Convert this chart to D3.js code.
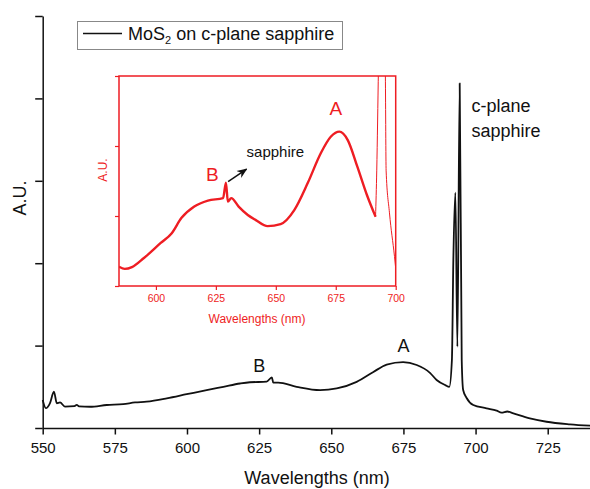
<!DOCTYPE html>
<html>
<head>
<meta charset="utf-8">
<script src="https://cdn.jsdelivr.net/npm/d3@7"></script>
<style>
  body { margin: 0; background: #fff; }
  svg { display: block; font-family: "Liberation Sans", Arial, sans-serif; }
</style>
</head>
<body>
<div class="container"></div>
<script>
const WIDTH = 590;
const HEIGHT = 489;
const RED = '#ee1d23';

// main spectrum (arbitrary units)
var mainWl = [550, 551.1, 552.5, 553.9, 554.9, 556, 557.7, 561, 561.8, 562.6, 566.4, 572.2, 577.9, 582, 586,
  593, 599.9, 606.8, 612.6, 618.4, 621.8, 627.6, 629.4, 629.9, 631.6, 638, 646.1, 651.9, 658.8, 664.6,
  669.2, 674.9, 679.6, 684.2, 686.5, 689.5, 690.9, 691.8, 692.3, 693.0, 693.7, 694.5, 695.2, 695.7,
  696.9, 699.2, 703.8, 707.3, 709.0, 711, 713.1, 718.8, 724.6, 732.7, 740];
var mainVal = [0.34, 0.24, 0.30, 0.44, 0.30, 0.31, 0.26, 0.265, 0.28, 0.262, 0.258, 0.279, 0.29, 0.31, 0.32,
  0.36, 0.41, 0.46, 0.50, 0.54, 0.555, 0.562, 0.615, 0.55, 0.55, 0.50, 0.46, 0.48, 0.56, 0.68,
  0.77, 0.80, 0.765, 0.67, 0.583, 0.52, 0.50, 0.825, 2.04, 2.856, 0.987, 4.183, 0.825, 0.461,
  0.364, 0.279, 0.239, 0.21, 0.186, 0.20, 0.178, 0.118, 0.076, 0.045, 0.028];

// inset spectrum (zoomed, arbitrary units)
var insetWl = [584.6, 587, 590, 595, 602, 606.6, 610.6, 616, 621.7, 628, 629.2, 630, 631.4, 634.5, 638.3,
  641.5, 646.6, 652, 657.7, 663.3, 668.8, 673, 676.5, 680, 684, 688, 691.6, 692.1, 692.8, 693.5,
  694.5, 695.3, 695.7, 696, 697.4, 699.5, 700.6];
var insetVal = [0.55, 0.49, 0.54, 0.80, 1.23, 1.51, 1.94, 2.27, 2.44, 2.51, 2.95, 2.41, 2.51, 2.27, 2.03,
  1.89, 1.71, 1.77, 2.17, 2.94, 3.80, 4.27, 4.41, 4.17, 3.41, 2.60, 1.98, 3.31, 6.2, 9,
  12, 9, 6.0, 3.31, 2.09, 0.84, 0.09];

var mainXTicks = [550, 575, 600, 625, 650, 675, 700, 725];
var insetXTicks = [600, 625, 650, 675, 700];
var legendLabel = ['MoS', '2', ' on c-plane sapphire'];

var svg = d3.select('.container').append('svg')
  .attr('width', WIDTH)
  .attr('height', HEIGHT);

// ---- main chart ----
var x = d3.scaleLinear().domain([550, 740]).range([42.7, 591]);
var y = d3.scaleLinear().domain([0, 5]).range([428, 16]);

function minorTicks(start, stop, step) {
  return d3.range(start, stop + 1e-9, step);
}

var xAxis = svg.append('g').attr('transform', 'translate(0,' + y(0) + ')');
xAxis.call(d3.axisBottom(x).tickValues(minorTicks(550, 737.5, 12.5)).tickSize(3.5).tickFormat(''));
xAxis.call(d3.axisBottom(x).tickValues(mainXTicks).tickSize(6.5).tickSizeOuter(0).tickPadding(8)
  .tickFormat(d3.format('d')));
xAxis.selectAll('.domain').attr('stroke', '#111').attr('stroke-width', 1.5);
xAxis.selectAll('line').attr('stroke', '#111').attr('stroke-width', 1.5);
xAxis.selectAll('text').attr('fill', '#111').style('font-size', '15px')
  .style('font-family', '"Liberation Sans", Arial, sans-serif');

var yAxis = svg.append('g').attr('transform', 'translate(' + x(550) + ',0)');
yAxis.call(d3.axisLeft(y).tickValues(minorTicks(0, 5, 0.5)).tickSize(4).tickSizeOuter(0).tickFormat(''));
yAxis.call(d3.axisLeft(y).tickValues(minorTicks(0, 5, 1)).tickSize(7.5).tickSizeOuter(0).tickFormat(''));
yAxis.selectAll('.domain').attr('stroke', '#111').attr('stroke-width', 1.5);
yAxis.selectAll('line').attr('stroke', '#111').attr('stroke-width', 1.5);

svg.append('text')
  .attr('x', 317).attr('y', 484)
  .attr('text-anchor', 'middle')
  .style('font-size', '18px').attr('fill', '#111')
  .text('Wavelengths (nm)');

svg.append('text')
  .attr('transform', 'translate(26,198) rotate(-90)')
  .attr('text-anchor', 'middle')
  .style('font-size', '18px').attr('fill', '#111')
  .text('A.U.');

var mainLine = d3.line()
  .x(function (d) { return x(d[0]); })
  .y(function (d) { return y(d[1]); })
  .curve(d3.curveMonotoneX);

svg.append('path')
  .datum(d3.zip(mainWl, mainVal))
  .attr('d', mainLine)
  .attr('fill', 'none')
  .attr('stroke', '#111')
  .attr('stroke-width', 1.8)
  .attr('stroke-linejoin', 'round');

var mainNotes = [
  { wl: 625, v: 0.674, text: 'B', anchor: 'middle' },
  { wl: 675, v: 0.928, text: 'A', anchor: 'middle' },
  { wl: 698.6, v: 3.835, text: 'c-plane', anchor: 'start' },
  { wl: 698.6, v: 3.53, text: 'sapphire', anchor: 'start' }
];
svg.selectAll('.note').data(mainNotes).enter().append('text')
  .attr('class', 'note')
  .attr('x', function (d) { return x(d.wl); })
  .attr('y', function (d) { return y(d.v); })
  .attr('text-anchor', function (d) { return d.anchor; })
  .style('font-size', '18px').attr('fill', '#111')
  .text(function (d) { return d.text; });

// legend
var legend = svg.append('g');
legend.append('rect')
  .attr('x', 77.5).attr('y', 21.5).attr('width', 265).attr('height', 28)
  .attr('fill', '#fff').attr('stroke', '#888').attr('stroke-width', 1);
legend.append('line')
  .attr('x1', 83).attr('x2', 122).attr('y1', 33.5).attr('y2', 33.5)
  .attr('stroke', '#111').attr('stroke-width', 1.5);
var lt = legend.append('text')
  .attr('x', 128).attr('y', 40)
  .style('font-size', '18px').attr('fill', '#111');
lt.append('tspan').text(legendLabel[0]);
lt.append('tspan').attr('dy', 4).style('font-size', '11px').text(legendLabel[1]);
lt.append('tspan').attr('dy', -4).text(legendLabel[2]);

// ---- inset ----
var ix = d3.scaleLinear().domain([584.6, 700]).range([119, 395.7]);
var iy = d3.scaleLinear().domain([0, 6]).range([286, 76]);

svg.append('clipPath').attr('id', 'inset-clip')
  .append('rect')
  .attr('x', ix(584.6)).attr('y', iy(6))
  .attr('width', ix(700) - ix(584.6)).attr('height', iy(0) - iy(6));

svg.append('rect')
  .attr('x', ix(584.6)).attr('y', iy(6))
  .attr('width', ix(700) - ix(584.6)).attr('height', iy(0) - iy(6))
  .attr('fill', 'none').attr('stroke', RED).attr('stroke-width', 1.5);

var ixAxis = svg.append('g').attr('transform', 'translate(0,' + iy(0) + ')');
ixAxis.call(d3.axisBottom(ix).tickValues(minorTicks(587.5, 700, 12.5)).tickSize(2.5).tickFormat(''));
ixAxis.call(d3.axisBottom(ix).tickValues(insetXTicks).tickSize(4).tickSizeOuter(0).tickPadding(5)
  .tickFormat(d3.format('d')));
ixAxis.selectAll('.domain').remove();
ixAxis.selectAll('line').attr('stroke', RED).attr('stroke-width', 1.2);
ixAxis.selectAll('text').attr('fill', RED).style('font-size', '10.5px')
  .style('font-family', '"Liberation Sans", Arial, sans-serif');

var iyAxis = svg.append('g').attr('transform', 'translate(' + ix(584.6) + ',0)');
iyAxis.call(d3.axisLeft(iy).tickValues(minorTicks(0, 6, 1)).tickSize(2.5).tickSizeOuter(0).tickFormat(''));
iyAxis.call(d3.axisLeft(iy).tickValues(minorTicks(0, 6, 2)).tickSize(4).tickSizeOuter(0).tickFormat(''));
iyAxis.selectAll('.domain').remove();
iyAxis.selectAll('line').attr('stroke', RED).attr('stroke-width', 1.2);

svg.append('text')
  .attr('x', 257).attr('y', 323)
  .attr('text-anchor', 'middle')
  .style('font-size', '12px').attr('fill', RED)
  .text('Wavelengths (nm)');

svg.append('text')
  .attr('transform', 'translate(107,170) rotate(-90)')
  .attr('text-anchor', 'middle')
  .style('font-size', '12px').attr('fill', RED)
  .text('A.U.');

var insetLine = d3.line()
  .x(function (d) { return ix(d[0]); })
  .y(function (d) { return iy(d[1]); })
  .curve(d3.curveMonotoneX);

var insetData = d3.zip(insetWl, insetVal);
var insetGroup = svg.append('g').attr('clip-path', 'url(#inset-clip)');
insetGroup.append('path')
  .datum(insetData.filter(function (d) { return d[0] <= 691.6; }))
  .attr('d', insetLine)
  .attr('fill', 'none').attr('stroke', RED)
  .attr('stroke-width', 2.4).attr('stroke-linejoin', 'round');
insetGroup.append('path')
  .datum(insetData.filter(function (d) { return d[0] >= 691.6; }))
  .attr('d', insetLine)
  .attr('fill', 'none').attr('stroke', RED)
  .attr('stroke-width', 1);

var insetNotes = [
  { wl: 675, v: 4.886, text: 'A', color: RED, size: 19 },
  { wl: 623.5, v: 3.0, text: 'B', color: RED, size: 19 },
  { wl: 637.8, v: 3.677, text: 'sapphire', color: '#111', size: 15 }
];
svg.selectAll('.inote').data(insetNotes).enter().append('text')
  .attr('class', 'inote')
  .attr('x', function (d) { return ix(d.wl); })
  .attr('y', function (d) { return iy(d.v); })
  .attr('text-anchor', function (d) { return d.text === 'sapphire' ? 'start' : 'middle'; })
  .style('font-size', function (d) { return d.size + 'px'; })
  .attr('fill', function (d) { return d.color; })
  .text(function (d) { return d.text; });

// arrow pointing at the sapphire line
svg.append('defs').append('marker')
  .attr('id', 'arrowhead')
  .attr('viewBox', '0 0 10 10').attr('refX', 9).attr('refY', 5)
  .attr('markerWidth', 7).attr('markerHeight', 7)
  .attr('orient', 'auto')
  .append('path').attr('d', 'M0,1 L10,5 L0,9 L3,5 Z').attr('fill', '#111');

svg.append('line')
  .attr('x1', ix(630.1)).attr('y1', iy(2.98))
  .attr('x2', ix(637.8)).attr('y2', iy(3.34))
  .attr('stroke', '#111').attr('stroke-width', 1.5)
  .attr('marker-end', 'url(#arrowhead)');
</script>
</body>
</html>
